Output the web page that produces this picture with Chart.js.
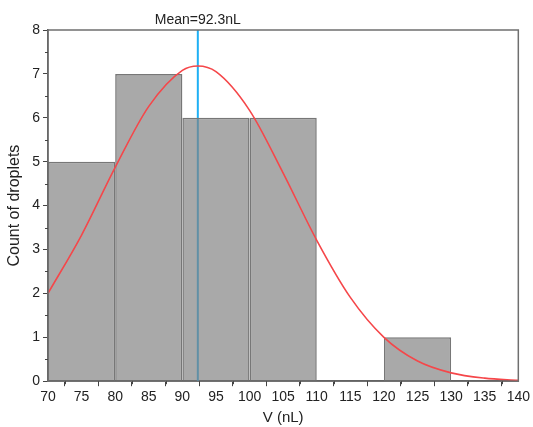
<!DOCTYPE html>
<html>
<head>
<meta charset="utf-8">
<script src="https://cdn.jsdelivr.net/npm/chart.js@4.4.1/dist/chart.umd.min.js"></script>
<style>
  html, body { margin: 0; padding: 0; background: #fff; }
  #wrap { width: 533px; height: 427px; }
</style>
</head>
<body>
<div id="wrap"><canvas id="histChart"></canvas></div>
<script>
// histogram bins (centre of each 10 nL bin) and counts
const binCentres = [75, 85, 95, 105, 125];
const binCounts = [5, 7, 6, 6, 1];

// fitted normal curve
const curveX = [70, 75, 80, 85, 90, 92.3, 95, 100, 105, 110, 115, 120, 125, 130, 135, 140];
const curveY = [2.00, 3.33, 4.87, 6.26, 7.08, 7.18, 7.05, 6.17, 4.74, 3.21, 1.91, 1.00, 0.46, 0.19, 0.07, 0.02];

const meanValue = 92.3;
const meanLabel = 'Mean=92.3nL';

const xRange = [70, 140];
const yRange = [0, 8];

const FONT = 'Liberation Sans, Arial, sans-serif';

// frame, minor ticks and mean label
const decorPlugin = {
    id: 'decor',
    afterDraw(chart) {
        const ctx = chart.ctx;
        const a = chart.chartArea;
        const xs = chart.scales.x, ys = chart.scales.y;
        ctx.save();
        ctx.strokeStyle = '#6f6f6f';
        ctx.lineWidth = 1.5;
        ctx.strokeRect(a.left, a.top, a.right - a.left, a.bottom - a.top);

        // minor ticks
        ctx.lineWidth = 1;
        ctx.strokeStyle = '#444';
        ctx.beginPath();
        for (let v = xRange[0] + 2.5; v < xRange[1]; v += 5) {
            const px = Math.round(xs.getPixelForValue(v)) + 0.5;
            ctx.moveTo(px, a.bottom);
            ctx.lineTo(px, a.bottom + 3);
        }
        for (let v = yRange[0] + 0.5; v < yRange[1]; v += 1) {
            const py = Math.round(ys.getPixelForValue(v)) + 0.5;
            ctx.moveTo(a.left, py);
            ctx.lineTo(a.left - 3, py);
        }
        ctx.stroke();

        ctx.fillStyle = '#222';
        ctx.font = '14px ' + FONT;
        ctx.textAlign = 'center';
        ctx.textBaseline = 'bottom';
        ctx.fillText(meanLabel, xs.getPixelForValue(meanValue), a.top - 3);
        ctx.restore();
    }
};

new Chart(document.getElementById('histChart'), {
    type: 'bar',
    data: {
        datasets: [
            {
                type: 'line',
                label: 'fit',
                data: curveX.map((x, i) => ({ x: x, y: curveY[i] })),
                borderColor: '#f5474a',
                borderWidth: 1.6,
                pointRadius: 0,
                cubicInterpolationMode: 'monotone',
                fill: false,
                order: 1
            },
            {
                type: 'bar',
                label: 'count',
                data: binCentres.map((x, i) => ({ x: x, y: binCounts[i] })),
                backgroundColor: 'rgba(128,128,128,0.68)',
                borderColor: '#777777',
                borderWidth: 1.5,
                // the bar ruler measures 5 nL tick spacing, bins are 10 nL wide
                barPercentage: 2,
                categoryPercentage: 1,
                order: 2
            },
            {
                type: 'line',
                label: 'mean',
                data: [{ x: meanValue, y: yRange[0] }, { x: meanValue, y: yRange[1] }],
                borderColor: '#1fb0f5',
                borderWidth: 2,
                pointRadius: 0,
                fill: false,
                order: 3
            }
        ]
    },
    options: {
        responsive: true,
        maintainAspectRatio: false,
        animation: false,
        layout: { padding: { top: 30, right: 10, left: 5, bottom: 0 } },
        plugins: {
            legend: { display: false },
            tooltip: { enabled: false }
        },
        scales: {
            x: {
                type: 'linear',
                min: xRange[0],
                max: xRange[1],
                offset: false,
                ticks: {
                    stepSize: 5,
                    color: '#222',
                    font: { family: FONT, size: 14 },
                    padding: 3,
                    maxRotation: 0,
                    autoSkip: false
                },
                grid: {
                    drawOnChartArea: false,
                    drawTicks: true,
                    tickLength: 5,
                    tickColor: '#444'
                },
                border: { color: '#555', width: 1.5 },
                title: {
                    display: true,
                    text: 'V (nL)',
                    color: '#222',
                    font: { family: FONT, size: 15 },
                    padding: { top: 0, bottom: 0 }
                }
            },
            y: {
                min: yRange[0],
                max: yRange[1],
                ticks: {
                    stepSize: 1,
                    color: '#222',
                    font: { family: FONT, size: 14 },
                    padding: 3
                },
                grid: {
                    drawOnChartArea: false,
                    drawTicks: true,
                    tickLength: 5,
                    tickColor: '#444'
                },
                border: { color: '#555', width: 1.5 },
                title: {
                    display: true,
                    text: 'Count of droplets',
                    color: '#222',
                    font: { family: FONT, size: 16 },
                    padding: { top: 0, bottom: 5 }
                }
            }
        }
    },
    plugins: [decorPlugin]
});
</script>
</body>
</html>
